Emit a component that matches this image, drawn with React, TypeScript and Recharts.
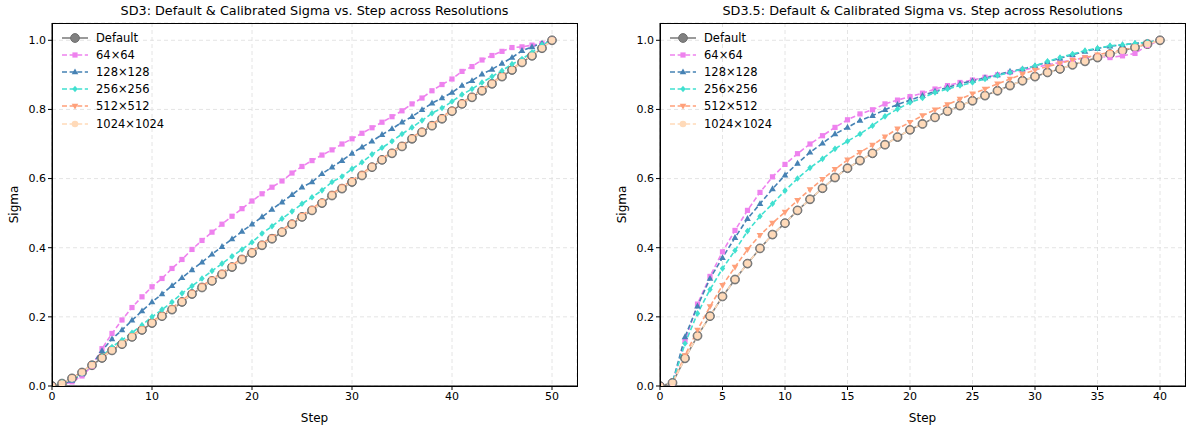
import React from 'react'
import { LineChart, Line, XAxis, YAxis, CartesianGrid, Label } from 'recharts'

const FONT = '"DejaVu Sans", Verdana, sans-serif'

const SERIES_NAMES = ['Default', '64×64', '128×128', '256×256', '512×512', '1024×1024']
const SERIES_KEYS = ['def', 'r64', 'r128', 'r256', 'r512', 'r1024']
const SERIES_COLORS = ['#808080', '#EE82EE', '#4682B4', '#40E0D0', '#FFA07A', '#FFDAB9']
const SERIES_MARKERS = ['circle', 'square', 'triUp', 'diamond', 'triDown', 'dot']

// SD3, steps 0..50
const SD3_STEPS = Array.from({ length: 51 }, (_, i) => i)
const SD3_DEFAULT = [
  0, 0.007, 0.022, 0.039, 0.06, 0.081, 0.103, 0.121, 0.142, 0.162, 0.182,
  0.202, 0.221, 0.243, 0.266, 0.285, 0.304, 0.323, 0.344, 0.366, 0.385,
  0.407, 0.426, 0.445, 0.468, 0.489, 0.508, 0.529, 0.551, 0.571, 0.59,
  0.609, 0.633, 0.654, 0.673, 0.693, 0.715, 0.734, 0.753, 0.773, 0.795,
  0.816, 0.835, 0.854, 0.874, 0.895, 0.914, 0.936, 0.955, 0.977, 1.0,
]
const SD3_64 = [
  0, 0.003, 0.012, 0.029, 0.058, 0.108, 0.152, 0.191, 0.227, 0.258, 0.287,
  0.311, 0.34, 0.366, 0.395, 0.421, 0.445, 0.468, 0.491, 0.513, 0.535,
  0.556, 0.575, 0.593, 0.616, 0.635, 0.652, 0.668, 0.683, 0.7, 0.715,
  0.731, 0.747, 0.763, 0.779, 0.796, 0.816, 0.833, 0.854, 0.872, 0.888,
  0.91, 0.924, 0.943, 0.956, 0.968, 0.979, 0.981, 0.986, 0.991, 1.0,
]
const SD3_128 = [
  0, 0.005, 0.016, 0.035, 0.062, 0.102, 0.136, 0.162, 0.19, 0.217, 0.243,
  0.266, 0.29, 0.313, 0.336, 0.358, 0.381, 0.403, 0.425, 0.447, 0.468,
  0.489, 0.511, 0.532, 0.553, 0.575, 0.59, 0.614, 0.633, 0.652, 0.673,
  0.691, 0.708, 0.727, 0.744, 0.763, 0.779, 0.799, 0.818, 0.833, 0.849,
  0.869, 0.883, 0.902, 0.916, 0.933, 0.95, 0.97, 0.981, 0.991, 1.0,
]
const SD3_256 = [
  0, 0.01, 0.02, 0.038, 0.061, 0.085, 0.113, 0.133, 0.154, 0.176, 0.2,
  0.221, 0.243, 0.268, 0.289, 0.311, 0.333, 0.354, 0.375, 0.395, 0.416,
  0.441, 0.462, 0.484, 0.505, 0.527, 0.546, 0.566, 0.59, 0.606, 0.628,
  0.647, 0.67, 0.689, 0.708, 0.729, 0.748, 0.768, 0.789, 0.804, 0.823,
  0.843, 0.859, 0.878, 0.895, 0.912, 0.931, 0.946, 0.965, 0.987, 1.0,
]
const SD3_512 = [
  0, 0.008, 0.023, 0.041, 0.062, 0.084, 0.106, 0.125, 0.146, 0.166, 0.186,
  0.206, 0.226, 0.248, 0.27, 0.29, 0.309, 0.328, 0.349, 0.371, 0.39,
  0.412, 0.431, 0.45, 0.473, 0.494, 0.513, 0.534, 0.556, 0.576, 0.595,
  0.614, 0.637, 0.658, 0.677, 0.697, 0.719, 0.738, 0.757, 0.777, 0.799,
  0.82, 0.839, 0.858, 0.877, 0.898, 0.917, 0.938, 0.957, 0.978, 1.0,
]
const SD3_1024 = [
  0, 0.007, 0.022, 0.039, 0.06, 0.081, 0.103, 0.121, 0.142, 0.162, 0.182,
  0.202, 0.221, 0.243, 0.266, 0.285, 0.304, 0.323, 0.344, 0.366, 0.385,
  0.407, 0.426, 0.445, 0.468, 0.489, 0.508, 0.529, 0.551, 0.571, 0.59,
  0.609, 0.633, 0.654, 0.673, 0.693, 0.715, 0.734, 0.753, 0.773, 0.795,
  0.816, 0.835, 0.854, 0.874, 0.895, 0.914, 0.936, 0.955, 0.977, 1.0,
]

// SD3.5, steps 0..40
const SD35_STEPS = Array.from({ length: 41 }, (_, i) => i)
const SD35_DEFAULT = [
  0, 0.009, 0.08, 0.145, 0.202, 0.259, 0.308, 0.354, 0.398, 0.438, 0.471,
  0.508, 0.54, 0.572, 0.603, 0.63, 0.652, 0.673, 0.698, 0.72, 0.741,
  0.758, 0.777, 0.795, 0.811, 0.825, 0.84, 0.854, 0.869, 0.883, 0.895,
  0.907, 0.917, 0.929, 0.939, 0.95, 0.96, 0.97, 0.979, 0.989, 1.0,
]
const SD35_64 = [
  0, 0.008, 0.13, 0.237, 0.317, 0.388, 0.45, 0.508, 0.56, 0.605, 0.641,
  0.672, 0.7, 0.724, 0.748, 0.77, 0.787, 0.799, 0.816, 0.827, 0.837,
  0.847, 0.859, 0.869, 0.878, 0.885, 0.893, 0.9, 0.907, 0.914, 0.921,
  0.929, 0.936, 0.943, 0.95, 0.955, 0.95, 0.955, 0.962, 0.985, 1.0,
]
const SD35_128 = [
  0, 0.01, 0.142, 0.231, 0.311, 0.371, 0.429, 0.484, 0.527, 0.57, 0.61,
  0.644, 0.676, 0.702, 0.729, 0.748, 0.768, 0.782, 0.799, 0.814, 0.827,
  0.84, 0.852, 0.864, 0.874, 0.883, 0.891, 0.9, 0.91, 0.917, 0.926,
  0.937, 0.948, 0.958, 0.968, 0.976, 0.983, 0.987, 0.991, 0.994, 1.0,
]
const SD35_256 = [
  0, 0.01, 0.123, 0.21, 0.279, 0.34, 0.392, 0.448, 0.491, 0.527, 0.565,
  0.6, 0.631, 0.657, 0.686, 0.708, 0.729, 0.753, 0.78, 0.801, 0.82,
  0.833, 0.849, 0.859, 0.869, 0.878, 0.888, 0.898, 0.907, 0.917, 0.926,
  0.939, 0.95, 0.96, 0.97, 0.977, 0.984, 0.987, 0.991, 0.994, 1.0,
]
const SD35_512 = [
  0, 0.009, 0.088, 0.162, 0.23, 0.291, 0.344, 0.395, 0.436, 0.471, 0.503,
  0.537, 0.568, 0.598, 0.627, 0.654, 0.676, 0.697, 0.721, 0.744, 0.763,
  0.782, 0.799, 0.814, 0.83, 0.845, 0.859, 0.874, 0.888, 0.902, 0.914,
  0.924, 0.933, 0.943, 0.95, 0.958, 0.965, 0.972, 0.981, 0.989, 1.0,
]
const SD35_1024 = [
  0, 0.009, 0.08, 0.145, 0.202, 0.259, 0.308, 0.354, 0.398, 0.438, 0.471,
  0.508, 0.54, 0.572, 0.603, 0.63, 0.652, 0.673, 0.698, 0.72, 0.741,
  0.758, 0.777, 0.795, 0.811, 0.825, 0.84, 0.854, 0.869, 0.883, 0.895,
  0.907, 0.917, 0.929, 0.939, 0.95, 0.96, 0.97, 0.979, 0.989, 1.0,
]

const X_TICKS_SD3 = [0, 10, 20, 30, 40, 50]
const X_TICKS_SD35 = [0, 5, 10, 15, 20, 25, 30, 35, 40]
const Y_TICKS = [0, 0.2, 0.4, 0.6, 0.8, 1.0]

function buildRows(steps: number[], series: number[][]) {
  return steps.map((s, i) => {
    const row: Record<string, number> = { step: s }
    SERIES_KEYS.forEach((k, j) => { row[k] = series[j][i] })
    return row
  })
}

const sd3Rows = buildRows(SD3_STEPS, [SD3_DEFAULT, SD3_64, SD3_128, SD3_256, SD3_512, SD3_1024])
const sd35Rows = buildRows(SD35_STEPS, [SD35_DEFAULT, SD35_64, SD35_128, SD35_256, SD35_512, SD35_1024])

function Marker({ shape, cx, cy, color }: { shape: string; cx: number; cy: number; color: string }) {
  switch (shape) {
    case 'circle':
      return <circle cx={cx} cy={cy} r={4.4} fill={color} stroke="#6f6f6f" strokeWidth={1} />
    case 'square':
      return <rect x={cx - 2.6} y={cy - 2.6} width={5.2} height={5.2} fill={color} />
    case 'triUp':
      return <path d={`M${cx},${cy - 3.6}L${cx + 3.3},${cy + 2.3}L${cx - 3.3},${cy + 2.3}Z`} fill={color} />
    case 'triDown':
      return <path d={`M${cx},${cy + 3.6}L${cx + 3.3},${cy - 2.3}L${cx - 3.3},${cy - 2.3}Z`} fill={color} />
    case 'diamond':
      return <path d={`M${cx},${cy - 3.3}L${cx + 2.7},${cy}L${cx},${cy + 3.3}L${cx - 2.7},${cy}Z`} fill={color} />
    default:
      return <circle cx={cx} cy={cy} r={3.3} fill={color} />
  }
}

function makeDot(shape: string, color: string) {
  return (props: any) => {
    const { cx, cy, index } = props
    if (cx == null || cy == null) return <g key={index} />
    return (
      <g key={`${shape}-${index}`}>
        <Marker shape={shape} cx={cx} cy={cy} color={color} />
      </g>
    )
  }
}

function LegendBox({ left, top }: { left: number; top: number }) {
  return (
    <div style={{ position: 'absolute', left, top, fontFamily: FONT, fontSize: 11.5, color: '#000' }}>
      {SERIES_NAMES.map((name, i) => (
        <div key={name} style={{ display: 'flex', alignItems: 'center', height: 17.2 }}>
          <svg width={28} height={14} style={{ marginRight: 7 }}>
            <line
              x1={1} y1={7} x2={27} y2={7}
              stroke={SERIES_COLORS[i]} strokeWidth={1.6}
              strokeDasharray={i === 0 ? undefined : '5 2.6'}
            />
            <Marker shape={SERIES_MARKERS[i]} cx={14} cy={7} color={SERIES_COLORS[i]} />
          </svg>
          <span>{name}</span>
        </div>
      ))}
    </div>
  )
}

function SigmaPanel({ rows, xMax, xTicks, title, left, width, marginLeft, marginRight }: {
  rows: Record<string, number>[]
  xMax: number
  xTicks: number[]
  title: string
  left: number
  width: number
  marginLeft: number
  marginRight: number
}) {
  const plotLeft = left + marginLeft + 52
  const plotRight = left + width - marginRight
  return (
    <>
      <div style={{
        position: 'absolute', top: 3, left: plotLeft, width: plotRight - plotLeft,
        textAlign: 'center', fontFamily: FONT, fontSize: 12.8, color: '#000',
      }}>
        {title}
      </div>
      <div style={{ position: 'absolute', left, top: 0 }}>
        <LineChart width={width} height={428} data={rows}
          margin={{ top: 23, right: marginRight, bottom: 0, left: marginLeft }}>
          <CartesianGrid stroke="#dddddd" strokeDasharray="4 3" strokeWidth={0.8} />
          <XAxis
            dataKey="step" type="number" domain={[0, xMax]} ticks={xTicks}
            allowDataOverflow height={42}
            tick={{ fill: '#000', fontSize: 11, fontFamily: FONT }}
            tickSize={4} tickMargin={2}
            axisLine={{ stroke: '#000', strokeWidth: 1 }}
            tickLine={{ stroke: '#000', strokeWidth: 1 }}
          >
            <Label value="Step" position="insideBottom" offset={6}
              style={{ fill: '#000', fontSize: 12, fontFamily: FONT }} />
          </XAxis>
          <YAxis
            type="number" domain={[0, 1.05]} ticks={Y_TICKS} allowDataOverflow width={52}
            tickFormatter={(v: number) => v.toFixed(1)}
            tick={{ fill: '#000', fontSize: 11, fontFamily: FONT }}
            tickSize={4} tickMargin={2}
            axisLine={{ stroke: '#000', strokeWidth: 1 }}
            tickLine={{ stroke: '#000', strokeWidth: 1 }}
          >
            <Label value="Sigma" angle={-90} position="insideLeft" offset={14}
              style={{ fill: '#000', fontSize: 12, fontFamily: FONT, textAnchor: 'middle' }} />
          </YAxis>
          {SERIES_KEYS.map((k, i) => (
            <Line
              key={k}
              dataKey={k}
              name={SERIES_NAMES[i]}
              type="linear"
              stroke={SERIES_COLORS[i]}
              strokeWidth={1.6}
              strokeDasharray={i === 0 ? undefined : '5 2.6'}
              dot={makeDot(SERIES_MARKERS[i], SERIES_COLORS[i])}
              activeDot={false}
              isAnimationActive={false}
            />
          ))}
        </LineChart>
      </div>
      {/* axes frame (top/right spines) */}
      <div style={{
        position: 'absolute', left: plotLeft - 0.5, top: 22.5,
        width: plotRight - plotLeft + 1, height: 386 - 23 + 1,
        boxSizing: 'border-box',
        border: '1px solid #000', pointerEvents: 'none',
      }} />
      <LegendBox left={plotLeft + 9} top={29} />
    </>
  )
}

export default function App() {
  return (
    <div style={{ position: 'absolute', left: 0, top: 0, width: 1186, height: 428, background: '#fff' }}>
      <SigmaPanel rows={sd3Rows} xMax={52.5} xTicks={X_TICKS_SD3}
        title="SD3: Default & Calibrated Sigma vs. Step across Resolutions"
        left={0} width={600} marginLeft={0} marginRight={23} />
      <SigmaPanel rows={sd35Rows} xMax={42} xTicks={X_TICKS_SD35}
        title="SD3.5: Default & Calibrated Sigma vs. Step across Resolutions"
        left={600} width={586} marginLeft={8} marginRight={1} />
    </div>
  )
}
